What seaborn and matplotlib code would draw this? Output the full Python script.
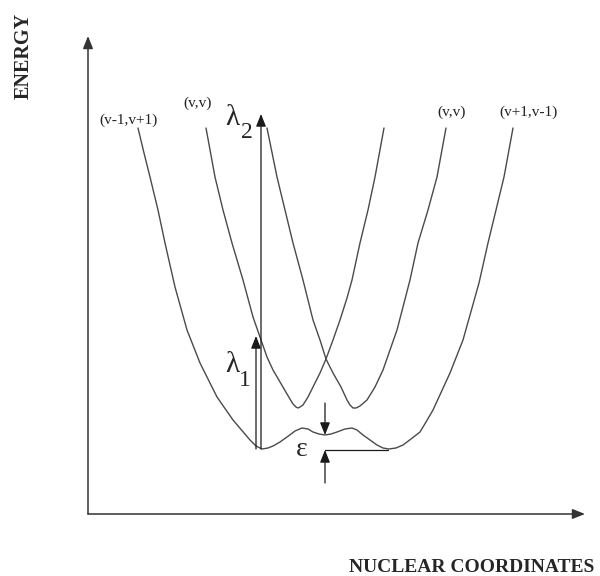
import matplotlib
matplotlib.use("Agg")
import matplotlib.pyplot as plt
import seaborn as sns

# -------------------------------------------------------------------------
# curve data (nuclear coordinate q, energy E)
# -------------------------------------------------------------------------
lower_q = [50, 56, 62, 70, 77, 87, 99, 112, 129, 145, 162, 168,
           174, 180, 185, 192, 199, 207, 214, 220, 225, 231,
           237, 243, 249, 257, 264, 269, 275, 282, 289, 295,
           301, 308, 315, 323, 332, 338, 345, 362, 375, 391, 400,
           408, 416, 425]
lower_E = [386, 361, 337, 304, 271, 227, 184, 151, 117, 94, 74, 68,
           65, 66, 68, 72, 77, 83, 86, 85, 82, 80,
           79, 80, 82, 85, 86, 84, 79, 74, 69, 66,
           65, 66, 69, 75, 82, 92, 104, 141, 174, 231, 271,
           304, 337, 386]

upper_left_q = [118, 127, 135, 144, 155, 165, 172, 179, 185, 192, 199, 202,
                205, 208, 210, 212, 215, 220, 225, 232, 238, 245, 252, 259,
                264, 272, 280, 287, 296]
upper_left_E = [386, 337, 304, 271, 234, 197, 177, 157, 144, 132, 120, 115,
                110, 107, 106, 107, 109, 117, 127, 141, 155, 174, 194, 216,
                234, 271, 304, 337, 386]

upper_right_q = [179, 189, 197, 205, 215, 225, 232, 238, 245, 253, 259, 262,
                 265, 268, 272, 279, 287, 295, 309, 322, 330, 340, 349, 358]
upper_right_E = [386, 337, 304, 271, 234, 194, 174, 155, 141, 127, 114, 109,
                 106, 106, 108, 114, 127, 144, 184, 234, 271, 304, 337, 386]

# transitions: (q, E_start, E_end)
lambda_1 = (168, 65, 178)
lambda_2 = (173, 65, 400)
eps_q = 237
eps_top = (111, 79)      # down arrow onto the middle well
eps_bottom = (31, 64)    # up arrow onto the lowest level
eps_level_q = (237, 300)

curve_labels = ["(v-1,v+1)", "(v,v)", "(v,v)", "(v+1,v-1)"]

# -------------------------------------------------------------------------
# figure
# -------------------------------------------------------------------------
sns.set_style("white")
plt.rcParams["font.family"] = ["Liberation Serif", "DejaVu Serif"]

fig = plt.figure(figsize=(6.0, 5.76), dpi=100)
ax = fig.add_axes([0, 0, 1, 1])
ax.set_xlim(-88, 512)
ax.set_ylim(-62, 514)
ax.axis("off")

curve_col = "#4a4a4a"
for q, E in [(lower_q, lower_E), (upper_left_q, upper_left_E),
             (upper_right_q, upper_right_E)]:
    sns.lineplot(x=q, y=E, sort=False, estimator=None, color=curve_col,
                 lw=1.0, ax=ax)

head = "-|>,head_length=0.5,head_width=0.2"


def arrow(x0, y0, x1, y1, color="#1a1a1a", lw=0.9):
    ax.annotate("", xy=(x1, y1), xytext=(x0, y0),
                arrowprops=dict(arrowstyle=head, mutation_scale=15, lw=lw,
                                color=color, shrinkA=0, shrinkB=0))


# coordinate axes
arrow(0, 0, 0, 478, color="#333333", lw=1.1)
arrow(0, 0, 497, 0, color="#333333", lw=1.1)

# optical transitions
arrow(lambda_2[0], lambda_2[1], lambda_2[0], lambda_2[2])
arrow(lambda_1[0], lambda_1[1], lambda_1[0], lambda_1[2])

# epsilon gap
arrow(eps_q, eps_top[0], eps_q, eps_top[1])
arrow(eps_q, eps_bottom[0], eps_q, eps_bottom[1])
ax.plot(eps_level_q, [eps_bottom[1], eps_bottom[1]], color="#1a1a1a", lw=0.9)

# text
ax.text(144, 396, "λ", fontsize=21, ha="center", va="center")
ax.text(159, 382, "2", fontsize=17, ha="center", va="center")
ax.text(144, 149, "λ", fontsize=21, ha="center", va="center")
ax.text(157, 133, "1", fontsize=17, ha="center", va="center")
ax.text(214, 65, "ε", fontsize=20, ha="center", va="center")

for (x, y), lab in zip([(40, 394), (110, 411), (364, 402), (441, 402)],
                       curve_labels):
    ax.text(x, y, lab, fontsize=11, ha="center", va="center", color="#222222")

ax.text(-64, 458, "ENERGY", rotation=90, fontsize=14.5, fontweight="bold",
        ha="center", va="center")
ax.text(506, -53, "NUCLEAR COORDINATES", fontsize=14, fontweight="bold",
        ha="right", va="center")

fig.savefig("out.png", dpi=100)
